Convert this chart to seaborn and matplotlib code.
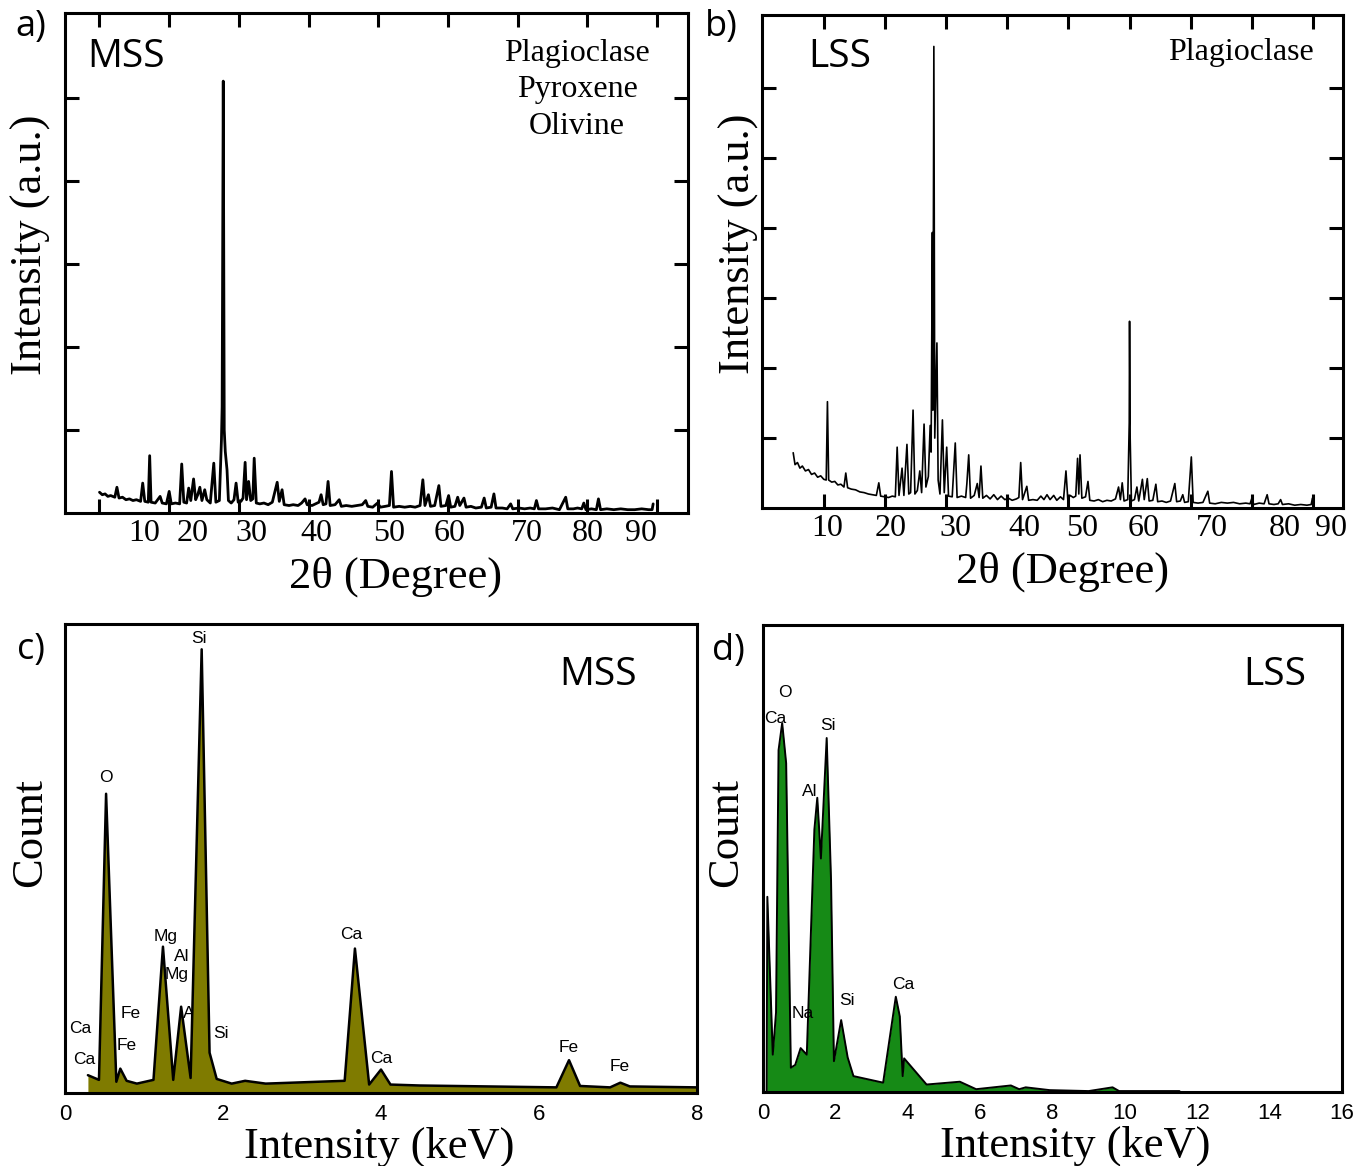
import numpy as np
import pandas as pd
import matplotlib
matplotlib.use("Agg")
import matplotlib.pyplot as plt
import seaborn as sns

# ---------------- DATA ----------------
# (a) XRD, MSS  : vertices of the recorded trace (2theta, intensity a.u.)
mss_xrd = [
    (10.0, .25), (10.4, .22), (10.8, .23), (11.2, .20), (11.6, .21), (12.2, .19), (12.5, .31), (12.8, .18),
    (13.3, .19), (13.8, .16), (14.3, .17), (14.8, .15), (15.3, .16), (15.9, .14), (16.2, .36), (16.5, .14),
    (17.0, .13), (17.2, .69), (17.4, .13), (18.0, .12), (18.7, .20), (19.0, .12), (19.6, .11), (20.0, .26),
    (20.3, .11), (20.9, .12), (21.5, .11), (21.8, .59), (22.1, .13), (22.5, .12), (22.8, .30), (23.1, .15),
    (23.5, .41), (23.8, .16), (24.1, .22), (24.4, .31), (24.7, .15), (25.1, .28), (25.4, .16), (25.9, .12),
    (26.4, .60), (26.7, .13), (27.2, .15), (27.5, .88), (27.6, 1.28), (27.76, 5.2), (27.9, 1.0), (28.05, .74),
    (28.3, .52), (28.5, .15), (28.9, .12), (29.3, .16), (29.6, .36), (29.9, .13), (30.3, .14), (30.6, .18),
    (30.9, .61), (31.1, .16), (31.4, .38), (31.7, .15), (32.0, .17), (32.2, .66), (32.5, .12), (33.0, .11),
    (33.6, .12), (34.2, .10), (34.8, .13), (35.5, .37), (35.8, .14), (36.2, .28), (36.5, .10), (37.2, .09),
    (37.8, .10), (38.5, .09), (39.0, .12), (39.5, .17), (39.8, .10), (40.5, .09), (41.0, .11), (41.5, .13),
    (41.8, .22), (42.1, .10), (42.5, .11), (42.8, .38), (43.1, .09), (43.8, .10), (44.4, .16), (44.7, .08),
    (45.4, .09), (46.2, .08), (47.0, .09), (47.7, .10), (48.2, .15), (48.5, .08), (49.2, .07), (49.9, .12),
    (50.3, .07), (51.0, .08), (51.6, .09), (51.9, .50), (52.2, .07), (53.0, .08), (53.8, .07), (54.6, .08),
    (55.3, .07), (56.0, .09), (56.4, .40), (56.7, .09), (57.2, .22), (57.5, .08), (58.1, .09), (58.7, .33),
    (59.0, .08), (59.7, .09), (60.1, .21), (60.4, .07), (61.0, .08), (61.4, .19), (61.7, .09), (62.3, .18),
    (62.6, .07), (63.3, .08), (64.0, .06), (64.8, .07), (65.2, .18), (65.5, .06), (66.2, .07), (66.6, .23),
    (66.9, .06), (67.8, .06), (68.5, .05), (69.0, .11), (69.3, .05), (70.2, .06), (71.0, .05), (71.8, .06),
    (72.4, .05), (72.7, .15), (73.0, .05), (74.0, .05), (75.0, .06), (76.0, .04), (76.9, .19), (77.2, .05),
    (78.0, .05), (78.6, .06), (79.2, .05), (79.5, .12), (79.8, .04), (80.6, .05), (81.3, .04), (81.6, .17),
    (81.9, .04), (82.8, .05), (83.8, .04), (84.8, .05), (85.8, .04), (86.8, .04), (87.8, .05), (88.8, .04),
    (89.3, .04), (89.45, .11),
]
mss_2theta = [p[0] for p in mss_xrd]
mss_int = [p[1] for p in mss_xrd]

# (b) XRD, LSS
lss_xrd = [
    (5.0, .79), (5.3, .62), (5.7, .65), (6.1, .57), (6.5, .60), (7.0, .53), (7.5, .55), (8.0, .48), (8.5, .50),
    (9.0, .44), (9.5, .46), (10.0, .41), (10.4, .40), (10.6, 1.52), (10.8, .40), (11.3, .37), (11.8, .38),
    (12.3, .33), (12.8, .34), (13.3, .30), (13.6, .50), (13.9, .29), (14.5, .27), (15.2, .26), (15.9, .23),
    (16.6, .22), (17.3, .20), (18.0, .19), (18.6, .18), (19.0, .36), (19.3, .17), (20.0, .16), (20.6, .15),
    (21.2, .17), (21.7, .16), (22.0, .87), (22.3, .18), (22.8, .57), (23.1, .18), (23.6, .91), (23.9, .20),
    (24.2, .22), (24.6, 1.40), (24.9, .20), (25.3, .25), (25.7, .53), (26.0, .22), (26.4, 1.20), (26.7, .30),
    (27.1, .45), (27.4, 1.18), (27.55, .8), (27.76, 3.94), (27.85, 1.4), (28.0, 6.6), (28.15, 1.0), (28.5, 2.36),
    (28.7, .4), (29.0, .2), (29.4, 1.26), (29.7, .22), (30.1, .87), (30.4, .17), (31.0, .16), (31.5, .93),
    (31.8, .15), (32.5, .17), (33.2, .15), (33.4, .35), (33.7, .76), (34.0, .14), (34.6, .18), (35.1, .35),
    (35.4, .15), (35.7, .60), (36.0, .14), (36.6, .18), (37.2, .13), (37.8, .19), (38.4, .12), (39.0, .17),
    (39.6, .12), (40.2, .14), (40.8, .11), (41.5, .13), (41.9, .15), (42.2, .65), (42.5, .12), (43.2, .31),
    (43.5, .11), (44.2, .12), (44.9, .11), (45.5, .17), (46.0, .12), (46.5, .19), (47.0, .12), (47.6, .18),
    (48.1, .11), (48.7, .16), (49.2, .12), (49.6, .53), (49.9, .13), (50.3, .18), (50.8, .15), (51.2, .17),
    (51.5, .71), (51.7, .2), (51.9, .76), (52.2, .14), (52.8, .16), (53.2, .38), (53.5, .11), (54.2, .10),
    (54.9, .12), (55.6, .09), (56.3, .11), (57.0, .10), (57.7, .13), (58.2, .30), (58.5, .12), (58.8, .36),
    (59.1, .10), (59.7, .12), (59.95, 1.22), (60.0, 2.67), (60.1, 1.0), (60.3, .10), (60.8, .12), (61.2, .30),
    (61.5, .10), (62.1, .41), (62.4, .12), (62.9, .42), (63.2, .10), (63.8, .11), (64.3, .34), (64.6, .09),
    (65.3, .10), (66.0, .08), (66.7, .10), (67.4, .35), (67.7, .09), (68.3, .10), (68.7, .19), (69.0, .08),
    (69.6, .09), (70.1, .73), (70.4, .08), (71.2, .07), (72.0, .08), (72.8, .24), (73.1, .07), (74.0, .06),
    (75.0, .08), (76.0, .07), (77.0, .08), (78.0, .06), (79.0, .07), (79.7, .06), (80.0, .14), (80.3, .05),
    (81.2, .07), (82.0, .06), (82.5, .19), (82.8, .06), (83.6, .05), (84.3, .06), (84.7, .12), (85.0, .05),
    (86.0, .06), (87.0, .04), (88.0, .05), (89.0, .04), (89.7, .05), (89.9, .14),
]
lss_2theta = [p[0] for p in lss_xrd]
lss_int = [p[1] for p in lss_xrd]

# (c) EDS, MSS (keV, count a.u.)
mss_kev = [0.29, 0.43, 0.52, 0.65, 0.70, 0.78, 0.91, 1.12, 1.24, 1.37, 1.47, 1.59, 1.73, 1.83, 1.92, 2.11,
           2.28, 2.54, 3.54, 3.67, 3.85, 4.00, 4.12, 4.49, 6.22, 6.38, 6.52, 6.90, 7.03, 7.15, 8.00]
mss_cnt = [0.19, 0.14, 3.19, 0.12, 0.26, 0.13, 0.10, 0.14, 1.56, 0.14, 0.92, 0.16, 4.73, 0.43, 0.15, 0.10,
           0.13, 0.10, 0.13, 1.54, 0.09, 0.25, 0.09, 0.08, 0.06, 0.35, 0.075, 0.06, 0.11, 0.07, 0.06]
mss_labels = [("Si", 1.70, 4.85), ("O", 0.52, 3.36), ("Mg", 1.28, 1.67), ("Al", 1.48, 1.46), ("Mg", 1.41, 1.26),
              ("Fe", 0.83, 0.85), ("Ca", 0.19, 0.69), ("Fe", 0.78, 0.51), ("Si", 1.97, 0.63), ("Ca", 0.24, 0.36),
              ("Ca", 3.62, 1.69), ("Ca", 4.00, 0.37), ("Fe", 6.37, 0.48), ("Fe", 7.02, 0.28)]
mss_hidden_label = ("Al", 1.59, 0.85)

# (d) EDS, LSS
lss_kev = [0.10, 0.12, 0.27, 0.36, 0.43, 0.53, 0.64, 0.77, 0.89, 1.04, 1.21, 1.42, 1.50, 1.60, 1.76, 1.88,
           1.96, 2.16, 2.34, 2.50, 3.32, 3.67, 3.78, 3.86, 3.90, 4.52, 5.44, 5.89, 6.85, 7.08, 7.26, 7.92,
           9.00, 9.66, 9.84, 11.51]
lss_cnt = [0.0, 2.09, 0.40, 0.85, 3.66, 3.95, 3.52, 0.26, 0.29, 0.47, 0.40, 2.81, 3.15, 2.50, 3.79, 2.27,
           0.33, 0.77, 0.37, 0.17, 0.10, 1.02, 0.81, 0.17, 0.36, 0.08, 0.11, 0.03, 0.07, 0.03, 0.05, 0.02,
           0.01, 0.05, 0.01, 0.01]
lss_labels = [("O", 0.61, 4.28), ("Ca", 0.33, 4.00), ("Si", 1.79, 3.92), ("Al", 1.30, 3.22),
              ("Na", 1.11, 0.84), ("Si", 2.32, 0.98), ("Ca", 3.87, 1.15)]

xrd_ticks = [10, 20, 30, 40, 50, 60, 70, 80, 90]
xrd_tick_labels = ["10", "20", "30", "40", "50", "60", "70", "80", "90"]
mss_label_pos = [16.4, 23.3, 31.8, 41.1, 51.5, 60.2, 71.4, 80.1, 87.7]
lss_label_pos = [10.5, 21.0, 31.5, 42.8, 52.2, 62.3, 73.4, 85.4, 93.0]

# ---------------- STYLE ----------------
sns.set_style("white")
SERIF = ["Liberation Serif", "DejaVu Serif"]
SANS = ["Liberation Sans", "DejaVu Sans"]
TITLE = ["Open Sans", "DejaVu Sans"]
plt.rcParams["font.family"] = SANS
plt.rcParams["axes.linewidth"] = 2.2
plt.rcParams["axes.edgecolor"] = "black"
plt.rcParams["text.color"] = "black"
plt.rcParams["axes.labelcolor"] = "black"
plt.rcParams["xtick.color"] = "black"
plt.rcParams["ytick.color"] = "black"

W, H = 1370, 1166
fig = plt.figure(figsize=(W / 100, H / 100), dpi=100)


def add_axes(l, t, r, b):
    return fig.add_axes([l / W, 1 - b / H, (r - l) / W, (b - t) / H])


axa = add_axes(65, 13, 688, 513)
axb = add_axes(762, 15, 1343, 508)
axc = add_axes(65, 624, 697, 1093)
axd = add_axes(763, 625, 1342, 1092)

OLIVE = "#7f7b00"
GREEN = "#168a16"


def style_xrd(ax, xlim, ylim, label_pos, ylab_x, xlab_x):
    ax.set_xlim(*xlim)
    ax.set_ylim(*ylim)
    ax.set_xticks(xrd_ticks)
    ax.set_xticklabels([])
    ax.set_xticks(label_pos, labels=xrd_tick_labels, minor=True)
    ax.set_yticks([1, 2, 3, 4, 5] + ([6] if ylim[1] > 6.5 else []))
    ax.set_yticklabels([])
    ax.tick_params(which="major", direction="in", length=10, width=2.2, top=True, right=True,
                   bottom=True, left=True)
    ax.tick_params(axis="x", which="minor", length=0, pad=4, labelsize=23)
    for lab in ax.get_xticklabels(minor=True):
        lab.set_fontfamily(SERIF)
    ax.set_xlabel("2θ (Degree)", fontsize=32, fontfamily=SERIF)
    ax.set_ylabel("Intensity (a.u.)", fontsize=32, fontfamily=SERIF)
    ax.xaxis.set_label_coords(xlab_x, -0.088)
    ax.yaxis.set_label_coords(ylab_x, 0.536)


# (a)
sns.lineplot(x=mss_2theta, y=mss_int, ax=axa, color="black", lw=2.0, sort=False, estimator=None)
style_xrd(axa, (5.05, 94.45), (0, 6.02), mss_label_pos, -0.022, 0.53)
axa.text(0.098, 0.912, "MSS", transform=axa.transAxes, fontsize=28, fontfamily=TITLE,
         ha="center", va="center")
for txt, yy in [("Plagioclase", 0.92), ("Pyroxene", 0.846), ("Olivine", 0.772)]:
    axa.text(0.822, yy, txt, transform=axa.transAxes, fontsize=23, fontfamily=SERIF,
             ha="center", va="center")

# (b)
sns.lineplot(x=lss_2theta, y=lss_int, ax=axb, color="black", lw=1.2, sort=False, estimator=None)
style_xrd(axb, (-0.1, 94.9), (0, 7.05), lss_label_pos, -0.006, 0.518)
axb.text(0.134, 0.915, "LSS", transform=axb.transAxes, fontsize=28, fontfamily=TITLE,
         ha="center", va="center")
axb.text(0.824, 0.923, "Plagioclase", transform=axb.transAxes, fontsize=23, fontfamily=SERIF,
         ha="center", va="center")


def style_eds(ax, xmax, left_ticks, ylab_x, xlab_x):
    ax.set_xlim(0, xmax)
    ax.set_ylim(0, 5)
    ax.set_xticks(np.arange(0, xmax + 1, 2))
    ax.tick_params(axis="x", direction="in", length=8, width=2.0, labelsize=16, pad=8)
    if left_ticks:
        ax.set_yticks([1, 2, 3, 4])
        ax.tick_params(axis="y", direction="in", length=8, width=2.0)
    else:
        ax.set_yticks([])
    ax.set_yticklabels([])
    ax.set_xlabel("Intensity (keV)", fontsize=32, fontfamily=SERIF)
    ax.set_ylabel("Count", fontsize=32, fontfamily=SERIF)
    ax.xaxis.set_label_coords(xlab_x, -0.072)
    ax.yaxis.set_label_coords(ylab_x, 0.556)


# (c)
axc.fill_between(mss_kev, 0, mss_cnt, color=OLIVE, lw=0, zorder=2)
sns.lineplot(x=mss_kev, y=mss_cnt, ax=axc, color="black", lw=1.8, sort=False, estimator=None, zorder=3)
style_eds(axc, 8, True, -0.024, 0.497)
for txt, xx, yy in mss_labels:
    axc.text(xx, yy, txt, fontsize=12.5, ha="center", va="center", zorder=4)
axc.text(mss_hidden_label[1], mss_hidden_label[2], mss_hidden_label[0], fontsize=12.5,
         ha="center", va="center", zorder=1)
axc.text(0.843, 0.891, "MSS", transform=axc.transAxes, fontsize=28, fontfamily=TITLE,
         ha="center", va="center")

# (d)
axd.fill_between(lss_kev, 0, lss_cnt, color=GREEN, lw=0, zorder=2)
sns.lineplot(x=lss_kev, y=lss_cnt, ax=axd, color="black", lw=1.4, sort=False, estimator=None, zorder=3)
style_eds(axd, 16, False, -0.029, 0.539)
for txt, xx, yy in lss_labels:
    axd.text(xx, yy, txt, fontsize=12.5, ha="center", va="center", zorder=4)
axd.text(0.884, 0.893, "LSS", transform=axd.transAxes, fontsize=28, fontfamily=TITLE,
         ha="center", va="center")

for ax in (axa, axb, axc, axd):
    for s in ax.spines.values():
        s.set_linewidth(2.2)
        s.set_color("black")
        s.set_zorder(5)

for lab, x, y in [("a)", 31, 27), ("b)", 721, 27), ("c)", 31, 650), ("d)", 728, 651)]:
    fig.text(x / W, 1 - y / H, lab, fontsize=26, fontfamily=TITLE, ha="center", va="center")

fig.savefig("out.png", dpi=100)
